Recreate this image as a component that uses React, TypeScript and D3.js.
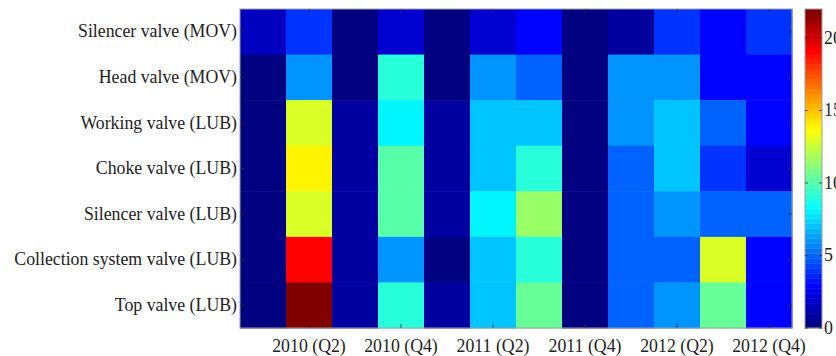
import React from "react";
import * as d3 from "d3";

// Quarters along the x axis and valves down the y axis
const quarters = [
  "2010 (Q1)", "2010 (Q2)", "2010 (Q3)", "2010 (Q4)",
  "2011 (Q1)", "2011 (Q2)", "2011 (Q3)", "2011 (Q4)",
  "2012 (Q1)", "2012 (Q2)", "2012 (Q3)", "2012 (Q4)",
];
const valves = [
  "Silencer valve (MOV)",
  "Head valve (MOV)",
  "Working valve (LUB)",
  "Choke valve (LUB)",
  "Silencer valve (LUB)",
  "Collection system valve (LUB)",
  "Top valve (LUB)",
];
// One row per valve, one value per quarter
const silencerMov = [1.5, 4, 0, 2, 0, 2, 3, 0, 1, 4, 3, 4];
const headMov = [0, 6, 0, 9, 0, 6, 5, 0, 6, 6, 3, 3];
const workingLub = [0, 13, 1, 8, 1, 7, 7, 0, 6, 7, 5, 3];
const chokeLub = [0, 14, 1, 10, 1, 7, 9, 0, 5, 7, 4, 2];
const silencerLub = [0, 13, 1, 10, 1, 8, 11.5, 0, 5, 6, 5, 5];
const collectionLub = [0, 19, 1, 6, 0, 7, 9, 0, 5, 5, 13, 3];
const topLub = [0, 22, 1, 9, 1, 7, 10.5, 0, 5, 6, 10.5, 3];
const rows = [silencerMov, headMov, workingLub, chokeLub, silencerLub, collectionLub, topLub];

const colorMin = 0;
const colorMax = 22;
const colorTicks = [0, 5, 10, 15, 20];
const xTickLabels = ["2010 (Q2)", "2010 (Q4)", "2011 (Q2)", "2011 (Q4)", "2012 (Q2)", "2012 (Q4)"];

const W = 836;
const H = 356;
const plot = { left: 240, right: 792, top: 9, bottom: 328 };
const bar = { left: 805, right: 822 };
const FONT = "'Liberation Serif', 'DejaVu Serif', serif";
const FS = 17.8;

// 64-level jet colormap
const LEVELS = 64;
function jet(t: number): string {
  const clamp = (v: number) => Math.max(0, Math.min(1, v));
  const r = clamp(1.5 - Math.abs(4 * t - 3));
  const g = clamp(1.5 - Math.abs(4 * t - 2));
  const b = clamp(1.5 - Math.abs(4 * t - 1));
  return d3.rgb(r * 255, g * 255, b * 255).formatHex();
}
const levelColor = (i: number) => jet(i / (LEVELS - 1));
function colorFor(v: number): string {
  const t = (v - colorMin) / (colorMax - colorMin);
  const i = Math.max(0, Math.min(LEVELS - 1, Math.floor(t * LEVELS)));
  return levelColor(i);
}

export default function App() {
  const x = d3.scaleBand<string>().domain(quarters).range([plot.left, plot.right]);
  const y = d3.scaleBand<string>().domain(valves).range([plot.top, plot.bottom]);
  const cy = d3.scaleLinear().domain([colorMin, colorMax]).range([plot.bottom, plot.top]);
  const levelH = (plot.bottom - plot.top) / LEVELS;
  const tick = 4;

  return (
    <svg
      width={W}
      height={H}
      style={{ position: "absolute", left: 0, top: 0, background: "#fff" }}
      fontFamily={FONT}
    >
      {/* heatmap cells */}
      {rows.map((vals, r) =>
        vals.map((v, c) => (
          <rect
            key={`${r}-${c}`}
            x={x(quarters[c])!}
            y={y(valves[r])!}
            width={x.bandwidth() + 0.5}
            height={y.bandwidth() + 0.5}
            fill={colorFor(v)}
          />
        ))
      )}
      <rect
        x={plot.left}
        y={plot.top}
        width={plot.right - plot.left}
        height={plot.bottom - plot.top}
        fill="none"
        stroke="#a0a0a0"
        strokeWidth={1}
      />
      {/* y ticks and labels */}
      {valves.map((v) => {
        const yy = y(v)! + y.bandwidth() / 2;
        return (
          <g key={v}>
            <line x1={plot.left} x2={plot.left + tick} y1={yy} y2={yy} stroke="#333" strokeWidth={0.8} />
            <line x1={plot.right} x2={plot.right - tick} y1={yy} y2={yy} stroke="#333" strokeWidth={0.8} />
            <text x={plot.left - 3} y={yy} dy="0.32em" textAnchor="end" fontSize={FS} fill="#222">
              {v}
            </text>
          </g>
        );
      })}
      {/* x ticks and labels */}
      {xTickLabels.map((q) => {
        const xx = x(q)! + x.bandwidth() / 2;
        return (
          <g key={q}>
            <line x1={xx} x2={xx} y1={plot.bottom} y2={plot.bottom - tick} stroke="#333" strokeWidth={0.8} />
            <line x1={xx} x2={xx} y1={plot.top} y2={plot.top + tick} stroke="#333" strokeWidth={0.8} />
            <text x={xx} y={352} textAnchor="middle" fontSize={FS} fill="#222">
              {q}
            </text>
          </g>
        );
      })}
      {/* colorbar */}
      {d3.range(LEVELS).map((i) => (
        <rect
          key={i}
          x={bar.left}
          y={plot.bottom - (i + 1) * levelH}
          width={bar.right - bar.left}
          height={levelH + 0.3}
          fill={levelColor(i)}
        />
      ))}
      <rect
        x={bar.left}
        y={plot.top}
        width={bar.right - bar.left}
        height={plot.bottom - plot.top}
        fill="none"
        stroke="#a0a0a0"
        strokeWidth={1}
      />
      {colorTicks.map((t) => (
        <g key={t}>
          <line x1={bar.right} x2={bar.right - 3} y1={cy(t)} y2={cy(t)} stroke="#333" strokeWidth={0.8} />
          <line x1={bar.left} x2={bar.left + 3} y1={cy(t)} y2={cy(t)} stroke="#333" strokeWidth={0.8} />
          <text x={bar.right + 2} y={cy(t)} dy="0.32em" fontSize={FS} fill="#222">
            {t}
          </text>
        </g>
      ))}
    </svg>
  );
}
